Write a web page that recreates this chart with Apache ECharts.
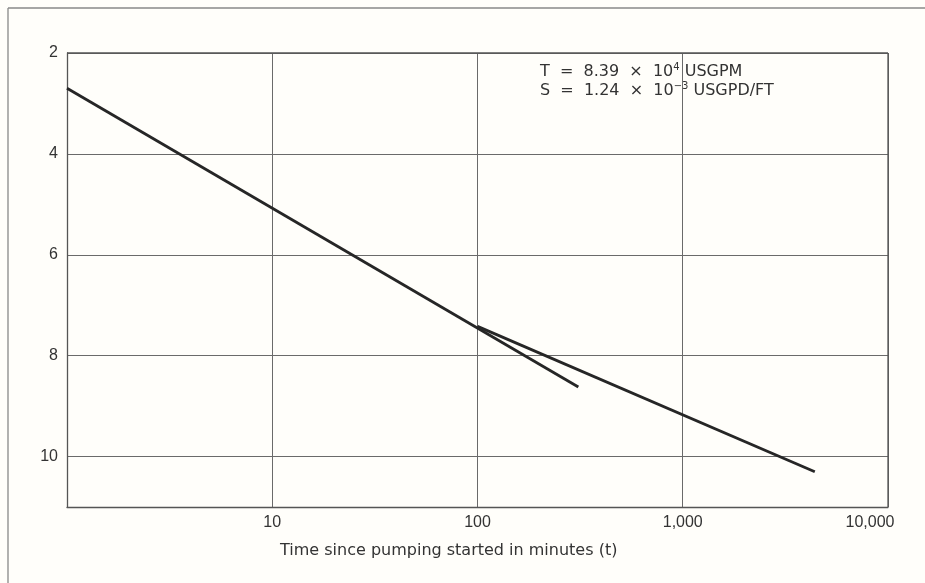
<!DOCTYPE html>
<html>
<head>
<meta charset="utf-8">
<script src="https://cdn.jsdelivr.net/npm/echarts@6/dist/echarts.min.js"></script>
<style>
  html, body { margin: 0; padding: 0; background: #fffefa; }
  #chart { width: 925px; height: 583px; }
</style>
</head>
<body>
<div id="chart"></div>
<script>
// Drawdown versus time on a semi-log plot (Cooper–Jacob straight lines)
const xTicks = [10, 100, 1000, 10000];
const yTicks = [2, 4, 6, 8, 10];

// Early-time straight line: [time (min), drawdown]
const earlyLine = [[1, 2.7], [310, 8.62]];
// Late-time straight line
const lateLine = [[100, 7.42], [4400, 10.3]];

const noteLines = [
  ['T  =  8.39  ×  10', '4', ' USGPM'],
  ['S  =  1.24  ×  10', '−3', ' USGPD/FT']
];

const FONT = '"Liberation Sans", Arial, sans-serif';
const WIDE = '"DejaVu Sans", sans-serif';
const chart = echarts.init(document.getElementById('chart'));

chart.setOption({
  animation: false,
  backgroundColor: '#fffefa',
  grid: { left: 67, right: 37, top: 53, bottom: 76 },
  xAxis: {
    type: 'log',
    logBase: 10,
    min: 1,
    max: 10000,
    axisLine: { show: true, lineStyle: { color: '#555', width: 1.3 } },
    axisTick: { show: false },
    axisLabel: {
      color: '#333', fontFamily: FONT, fontSize: 16, margin: 8,
      formatter: v => {
        const n = Math.round(v);
        if (xTicks.indexOf(n) < 0) return '';
        const s = n.toLocaleString('en-US');
        // the last label sits just inside the right border
        return n === xTicks[xTicks.length - 1] ? '{last|' + s + '}' : s;
      },
      rich: { last: { color: '#333', fontFamily: FONT, fontSize: 16, padding: [0, 36, 0, 0] } }
    },
    splitLine: { show: true, lineStyle: { color: '#6a6a6a', width: 1 } },
    minorTick: { show: false }
  },
  yAxis: {
    type: 'value',
    inverse: true,
    min: 2,
    max: 11,
    interval: 2,
    axisLine: { show: true, lineStyle: { color: '#555', width: 1.3 } },
    axisTick: { show: false },
    axisLabel: {
      color: '#333', fontFamily: FONT, fontSize: 16, margin: 9,
      formatter: v => (yTicks.indexOf(v) >= 0 ? String(v) : '')
    },
    splitLine: { show: true, lineStyle: { color: '#6a6a6a', width: 1 } }
  },
  series: [
    {
      type: 'line', data: earlyLine, symbol: 'none',
      lineStyle: { color: '#262626', width: 2.8 }, z: 5
    },
    {
      type: 'line', data: lateLine, symbol: 'none',
      lineStyle: { color: '#262626', width: 2.8 }, z: 5
    }
  ],
  graphic: [
    // outer figure frame
    { type: 'line', shape: { x1: 8, y1: 8, x2: 925, y2: 8 }, style: { stroke: '#888', lineWidth: 1.3 } },
    { type: 'line', shape: { x1: 8, y1: 8, x2: 8, y2: 583 }, style: { stroke: '#888', lineWidth: 1.3 } },
    // right and top border of the plotting area
    { type: 'line', shape: { x1: 67, y1: 53, x2: 888, y2: 53 }, style: { stroke: '#555', lineWidth: 1.3 }, z: 10 },
    { type: 'line', shape: { x1: 888, y1: 53, x2: 888, y2: 507 }, style: { stroke: '#555', lineWidth: 1.3 }, z: 10 },
    // axis title
    {
      type: 'text', left: 280, top: 543,
      style: { text: 'Time since pumping started in minutes (t)', fill: '#333', font: '16px ' + WIDE }
    },
    // transmissivity / storativity note
    {
      type: 'text', left: 540, top: 62,
      style: {
        text: noteLines.map(l => l[0] + '{sup|' + l[1] + '}' + l[2]).join('\n'),
        fill: '#333', font: '16px ' + WIDE, lineHeight: 19,
        rich: { sup: { fontSize: 10, fontFamily: 'DejaVu Sans', verticalAlign: 'top', padding: [0, 0, 5, 0], fill: '#333' } }
      }
    }
  ]
});
</script>
</body>
</html>
